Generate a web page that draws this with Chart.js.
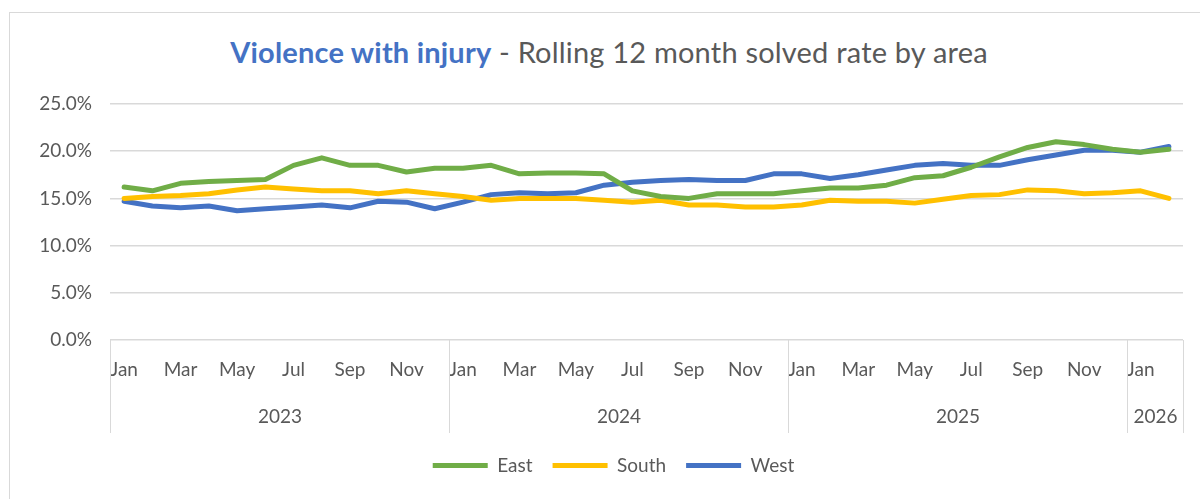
<!DOCTYPE html>
<html>
<head>
<meta charset="utf-8">
<script src="https://cdn.jsdelivr.net/npm/chart.js@4/dist/chart.umd.min.js"></script>
<style>
  html, body { margin: 0; padding: 0; background: #fff; overflow: hidden; }
  #frame { position: absolute; left: 9px; top: 12px; width: 1300px; height: 600px; border: 1px solid #d9d9d9; }
  #title { position: absolute; left: 0; top: 34px; width: 1218px; text-align: center; font-family: Lato, sans-serif; font-size: 29px; letter-spacing: 0.2px; color: #595959; }
  #title b { color: #4472c4; font-weight: 700; }
  #wrap { position: absolute; left: 0; top: 0; width: 1200px; height: 499px; }
</style>
</head>
<body>
<div id="frame"></div>
<div id="title"><b>Violence with injury</b> - Rolling 12 month solved rate by area</div>
<div id="wrap"><canvas id="chart"></canvas></div>
<script>
// Categories: Jan 2023 .. Feb 2026
const monthLabels = [
  'Jan', 'Feb', 'Mar', 'Apr', 'May', 'Jun', 'Jul', 'Aug', 'Sep', 'Oct', 'Nov', 'Dec',
  'Jan', 'Feb', 'Mar', 'Apr', 'May', 'Jun', 'Jul', 'Aug', 'Sep', 'Oct', 'Nov', 'Dec',
  'Jan', 'Feb', 'Mar', 'Apr', 'May', 'Jun', 'Jul', 'Aug', 'Sep', 'Oct', 'Nov', 'Dec',
  'Jan', 'Feb',
];
const yearLabels = ['2023', '2024', '2025', '2026'];
const yearMonths = [12, 12, 12, 2];

// Rolling 12 month solved rate (%)
const east = [
  16.2, 15.8, 16.6, 16.8, 16.9, 17.0, 18.5, 19.3, 18.5, 18.5, 17.8, 18.2,
  18.2, 18.5, 17.6, 17.7, 17.7, 17.6, 15.8, 15.2, 15.0, 15.5, 15.5, 15.5,
  15.8, 16.1, 16.1, 16.4, 17.2, 17.4, 18.3, 19.4, 20.4, 21.0, 20.7, 20.2,
  19.9, 20.2,
];
const south = [
  15.0, 15.2, 15.3, 15.5, 15.9, 16.2, 16.0, 15.8, 15.8, 15.5, 15.8, 15.5,
  15.2, 14.8, 15.0, 15.0, 15.0, 14.8, 14.6, 14.8, 14.3, 14.3, 14.1, 14.1,
  14.3, 14.8, 14.7, 14.7, 14.5, 14.9, 15.3, 15.4, 15.9, 15.8, 15.5, 15.6,
  15.8, 15.0,
];
const west = [
  14.7, 14.2, 14.0, 14.2, 13.7, 13.9, 14.1, 14.3, 14.0, 14.7, 14.6, 13.9,
  14.6, 15.4, 15.6, 15.5, 15.6, 16.4, 16.7, 16.9, 17.0, 16.9, 16.9, 17.6,
  17.6, 17.1, 17.5, 18.0, 18.5, 18.7, 18.5, 18.5, 19.1, 19.6, 20.1, 20.1,
  19.9, 20.5,
];

const FONT = 'Lato, sans-serif';
const GREY = '#595959';
const LINE = '#d9d9d9';

// Second row of the category axis: years with separators
const yearRow = {
  id: 'yearRow',
  afterLayout(chart) {
    // centre the legend under the plot rather than the whole canvas
    chart.legend.left += 22;
    chart.legend.right += 22;
  },
  afterDraw(chart) {
    const { ctx, chartArea, scales: { x } } = chart;
    const half = (x.getPixelForValue(1) - x.getPixelForValue(0)) / 2;
    const top = chartArea.bottom;
    const bottom = top + 93;
    ctx.save();
    ctx.strokeStyle = LINE;
    ctx.lineWidth = 1;
    ctx.fillStyle = GREY;
    ctx.font = '19px ' + FONT;
    ctx.textAlign = 'center';
    ctx.textBaseline = 'middle';
    let start = 0;
    yearLabels.forEach((yr, i) => {
      const end = start + yearMonths[i] - 1;
      const l = Math.round(x.getPixelForValue(start) - half) + 0.5;
      const r = Math.round(x.getPixelForValue(end) + half) + 0.5;
      ctx.beginPath();
      ctx.moveTo(l, top);
      ctx.lineTo(l, bottom);
      if (i === yearLabels.length - 1) {
        ctx.moveTo(r, top);
        ctx.lineTo(r, bottom);
      }
      ctx.stroke();
      ctx.fillText(yr, (l + r) / 2, top + 77);
      start = end + 1;
    });
    ctx.restore();
  },
};

function series(label, data, color) {
  return {
    label,
    data,
    borderColor: color,
    backgroundColor: color,
    borderWidth: 5,
    borderCapStyle: 'round',
    borderJoinStyle: 'round',
    pointRadius: 0,
    tension: 0,
  };
}

new Chart(document.getElementById('chart'), {
  type: 'line',
  data: {
    labels: monthLabels,
    datasets: [
      series('East', east, '#70ad47'),
      series('South', south, '#ffc000'),
      series('West', west, '#4472c4'),
    ],
  },
  options: {
    responsive: true,
    maintainAspectRatio: false,
    animation: false,
    layout: { padding: { top: 104, right: 17, bottom: 14, left: 0 } },
    plugins: {
      title: { display: false },
      tooltip: { enabled: false },
      legend: {
        position: 'bottom',
        labels: {
          usePointStyle: true,
          pointStyle: 'line',
          pointStyleWidth: 55,
          padding: 20,
          color: GREY,
          font: { family: FONT, size: 19 },
        },
      },
    },
    scales: {
      x: {
        offset: true,
        grid: { display: false, drawTicks: false },
        border: { display: false },
        ticks: {
          autoSkip: false,
          maxRotation: 0,
          padding: 18,
          color: GREY,
          font: { family: FONT, size: 19 },
          callback: (v, i) => (i % 2 === 0 ? monthLabels[i] : ''),
        },
        afterFit: (s) => { s.height = 96; },
      },
      y: {
        min: 0,
        max: 25,
        grid: { color: LINE, lineWidth: 1.5, drawTicks: false },
        border: { display: false },
        ticks: {
          stepSize: 5,
          padding: 18,
          color: GREY,
          font: { family: FONT, size: 19 },
          callback: (v) => v.toFixed(1) + '%',
        },
        afterFit: (s) => { s.width = 110; },
      },
    },
  },
  plugins: [yearRow],
});
</script>
</body>
</html>
